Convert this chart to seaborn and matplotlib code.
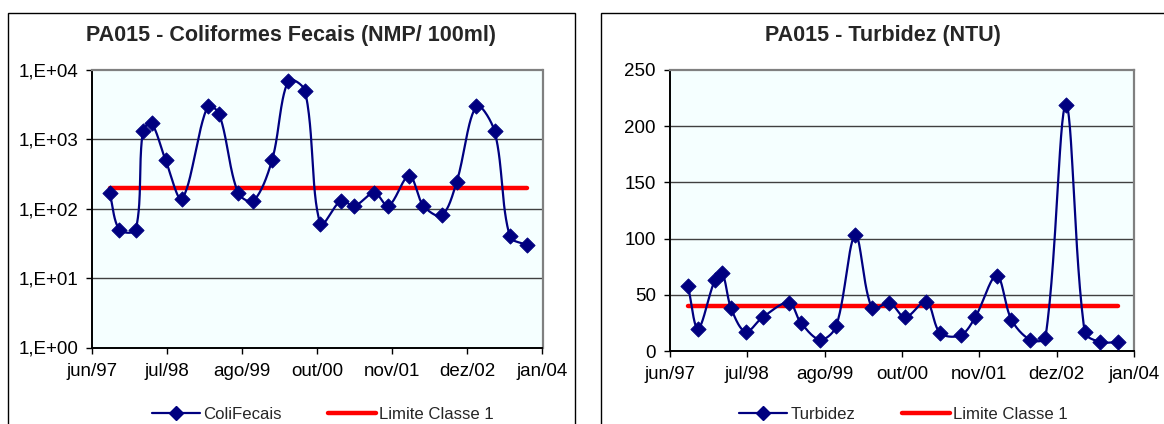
import numpy as np
import pandas as pd
import matplotlib
matplotlib.use("Agg")
import matplotlib.pyplot as plt
import matplotlib.dates as mdates
from matplotlib.lines import Line2D
from matplotlib.patches import Rectangle
from matplotlib.ticker import FixedLocator, NullLocator
import seaborn as sns

# datas das coletas
datas = ["1997-09-22", "1997-11-13", "1998-02-08", "1998-03-18", "1998-05-03",
         "1998-07-17", "1998-10-13", "1999-02-26", "1999-04-29", "1999-08-07",
         "1999-10-28", "2000-02-04", "2000-05-01", "2000-07-29", "2000-10-19",
         "2001-02-05", "2001-04-18", "2001-08-02", "2001-10-16", "2002-02-04",
         "2002-04-21", "2002-07-27", "2002-10-14", "2003-01-28", "2003-05-05",
         "2003-07-25", "2003-10-24"]

coli = [170, 50, 50, 1300, 1700, 500, 140, 3000, 2300, 170,
        130, 500, 7000, 5000, 60, 130, 110, 170, 110, 300,
        110, 80, 240, 3000, 1300, 40, 30]

turbidez = [58, 20, 63, 69, 38, 17, 30, 43, 25, 10,
            22, 103, 38, 43, 30, 44, 16, 14, 30, 67,
            28, 10, 12, 219, 17, 8, 8]

limite_coli = 200
limite_turb = 40

rotulos_x = ["jun/97", "jul/98", "ago/99", "out/00", "nov/01", "dez/02", "jan/04"]
rotulos_coli = ["1,E+00", "1,E+01", "1,E+02", "1,E+03", "1,E+04"]
valores_coli = [1, 10, 100, 1000, 10000]
valores_turb = [0, 50, 100, 150, 200, 250]

AZUL = "#000080"
VERMELHO = "#FF0000"
FUNDO = "#F5FFFF"

sns.set_style("white")
plt.rcParams["font.family"] = ["Liberation Sans", "DejaVu Sans"]


def suavizar(x, y, sx, sy, n=30):
    # linha suavizada estilo Excel: Bezier com tangentes ponderadas pelo
    # comprimento dos segmentos (em pixels)
    p = np.column_stack([np.asarray(x) * sx, np.asarray(y) * sy])
    xs, ys = [], []
    for i in range(len(p) - 1):
        p0 = p[i - 1] if i > 0 else p[i]
        p1, p2 = p[i], p[i + 1]
        p3 = p[i + 2] if i + 2 < len(p) else p[i + 1]
        d01 = np.hypot(*(p1 - p0))
        d12 = np.hypot(*(p2 - p1))
        d23 = np.hypot(*(p3 - p2))
        f1 = d12 / (d01 + d12) / 3 if d01 + d12 > 0 else 0
        f2 = d12 / (d12 + d23) / 3 if d12 + d23 > 0 else 0
        c1 = p1 + (p2 - p0) * f1
        c2 = p2 - (p3 - p1) * f2
        t = np.linspace(0, 1, n)[:, None]
        b = ((1 - t) ** 3) * p1 + 3 * ((1 - t) ** 2) * t * c1 + 3 * (1 - t) * t ** 2 * c2 + t ** 3 * p2
        xs.extend(b[:, 0] / sx)
        ys.extend(b[:, 1] / sy)
    return np.array(xs), np.array(ys)


x = mdates.date2num(pd.to_datetime(datas))
ticks_x = mdates.date2num(pd.date_range("1997-06-20", periods=len(rotulos_x), freq="400D"))
span = ticks_x[-1] - ticks_x[0]

fig = plt.figure(figsize=(11.64, 4.24), dpi=100)

# molduras dos gráficos
fig.add_artist(Rectangle((8 / 1164, -0.2), (574.5 - 8) / 1164, 0.2 + 1 - 13.3 / 424,
                         transform=fig.transFigure, fill=False, lw=1.0, ec="black"))
fig.add_artist(Rectangle((600.5 / 1164, -0.2), 0.6, 0.2 + 1 - 13.3 / 424,
                         transform=fig.transFigure, fill=False, lw=1.0, ec="black"))

ax1 = fig.add_axes([92 / 1164, 1 - 347.5 / 424, 450.5 / 1164, 277.5 / 424])
ax2 = fig.add_axes([669.8 / 1164, 1 - 351 / 424, 464.2 / 1164, 281 / 424])


def estilo(ax):
    ax.set_facecolor(FUNDO)
    ax.grid(False)
    for lado in ["top", "right"]:
        ax.spines[lado].set_color("#808080")
        ax.spines[lado].set_linewidth(1.6)
    for lado in ["left", "bottom"]:
        ax.spines[lado].set_color("black")
        ax.spines[lado].set_linewidth(1.4)
    ax.set_xlim(ticks_x[0], ticks_x[-1])
    ax.xaxis.set_major_locator(FixedLocator(ticks_x))
    ax.set_xticklabels(rotulos_x)
    ax.tick_params(axis="both", direction="out", length=4.5, width=1, color="black",
                   labelsize=13.5, labelcolor="black", bottom=True, left=True)
    ax.tick_params(axis="x", pad=6.5)
    ax.tick_params(axis="y", pad=5.5)
    ax.set_xlabel("")
    ax.set_ylabel("")


# Coliformes fecais (escala log)
xs, ys = suavizar(x, np.log10(coli), 450.5 / span, 277.5 / 4)
ax1.set_yscale("log")
ax1.set_ylim(1, 10000)
for v in valores_coli[1:-1]:
    ax1.axhline(v, color="#404040", lw=1, zorder=1)
sns.lineplot(x=xs, y=10 ** ys, ax=ax1, color=AZUL, lw=1.6, sort=False, estimator=None, zorder=3)
sns.scatterplot(x=x, y=coli, ax=ax1, marker="D", s=60, color=AZUL, edgecolor=AZUL, zorder=4)
sns.lineplot(x=[x[0], x[-1]], y=[limite_coli, limite_coli], ax=ax1, color=VERMELHO, lw=3.2, zorder=2)
ax1.yaxis.set_major_locator(FixedLocator(valores_coli))
ax1.yaxis.set_minor_locator(NullLocator())
ax1.set_yticklabels(rotulos_coli)
estilo(ax1)

# Turbidez
xs, ys = suavizar(x, np.array(turbidez, dtype=float), 464.2 / span, 281 / 250)
ax2.set_ylim(0, 250)
for v in valores_turb[1:-1]:
    ax2.axhline(v, color="#404040", lw=1, zorder=1)
sns.lineplot(x=xs, y=ys, ax=ax2, color=AZUL, lw=1.6, sort=False, estimator=None, zorder=3)
sns.scatterplot(x=x, y=turbidez, ax=ax2, marker="D", s=60, color=AZUL, edgecolor=AZUL, zorder=4)
sns.lineplot(x=[x[0], x[-1]], y=[limite_turb, limite_turb], ax=ax2, color=VERMELHO, lw=3.2, zorder=2)
ax2.yaxis.set_major_locator(FixedLocator(valores_turb))
ax2.set_yticklabels([str(v) for v in valores_turb])
estilo(ax2)

# títulos
fig.text(291.5 / 1164, 1 - 35 / 424, "PA015 - Coliformes Fecais (NMP/ 100ml)",
         ha="center", va="center", fontsize=15.5, fontweight="bold")
fig.text(882.6 / 1164, 1 - 35 / 424, "PA015 - Turbidez (NTU)",
         ha="center", va="center", fontsize=15.5, fontweight="bold")


# legendas
def legenda(nome, x0):
    h = [Line2D([], [], color=AZUL, marker="D", markersize=7.5, lw=1.6),
         Line2D([], [], color=VERMELHO, lw=3.2)]
    fig.legend(h, [nome, "Limite Classe 1"], loc="center left",
               bbox_to_anchor=(x0 / 1164, 1 - 414.5 / 424), ncol=2, frameon=False,
               fontsize=12.1, handlelength=2.85, handletextpad=0.2, columnspacing=2.75,
               borderpad=0, borderaxespad=0)


legenda("ColiFecais", 151.7)
legenda("Turbidez", 739.3)

plt.savefig("out.png", dpi=100)
